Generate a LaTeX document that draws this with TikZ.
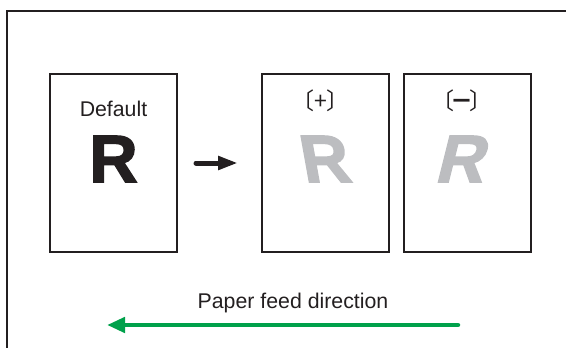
\documentclass[tikz,border=0pt]{standalone}
\usepackage{fontspec}
\setmainfont{Liberation Sans}
\newfontfamily\cjkfont{Noto Sans CJK JP}
\newfontfamily\heavyfont{Liberation Sans Bold}[FakeBold=2.2]
\usetikzlibrary{arrows.meta}
\definecolor{ink}{HTML}{231F20}
\definecolor{rgray}{HTML}{BCBDC0}
\definecolor{feedgreen}{HTML}{00A14B}
\begin{document}
\begin{tikzpicture}[x=1pt,y=-1pt,
  page/.style={draw=ink, line width=2pt, minimum width=127pt, minimum height=178pt, inner sep=0pt},
  lbl/.style={inner sep=0pt, text=ink, font=\fontsize{21.3}{21.3}\selectfont},
  bigr/.style={inner sep=0pt, font=\heavyfont\fontsize{67}{67}\selectfont},
  brk/.style={inner sep=0pt, text=ink, font=\cjkfont\fontsize{23}{23}\selectfont},
]
\useasboundingbox (0,0) rectangle (566,348);
\clip (0,0) rectangle (566,348);
\draw[ink, line width=2.5pt] (7,360) -- (7,11) -- (580,11);

\node[page] (p1) at (113.5,163) {};
\node[page] (p2) at (325,163) {};
\node[page] (p3) at (467,163) {};

\node[lbl] (def) at (113.5,109) {Default};
\node[bigr, text=ink] (r1) at (113.5,159) {R};
\node[bigr, text=rgray, xslant=-0.18] (r2) at (325,159) {R};
\node[bigr, text=rgray, xslant=0.25] (r3) at (464,159) {R};

\node[brk] (plus) at (320.5,100.5) {〔+〕};
\node[brk] (minus) at (461.5,100.5) {〔\kern-4pt{\bfseries －}\kern-4pt〕};

\coordinate (a1) at (196,163);
\coordinate (a2) at (238,163);
\draw[ink, line width=5pt, line cap=round, -{Triangle[length=20pt,width=13pt]}] (a1) -- (a2);

\node[lbl] (feed) at (293,303) {Paper feed direction};
\coordinate (g1) at (458,325);
\coordinate (g2) at (107,325);
\draw[feedgreen, line width=4.5pt, line cap=round, -{Triangle[length=18pt,width=15pt]}] (g1) -- (g2);
\end{tikzpicture}
\end{document}
